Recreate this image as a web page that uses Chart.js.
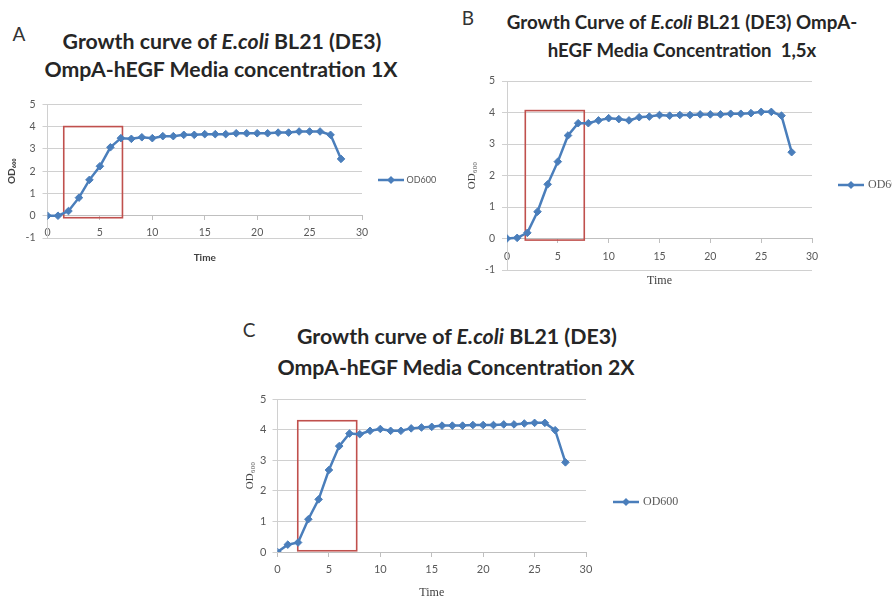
<!DOCTYPE html>
<html>
<head>
<meta charset="utf-8">
<script src="https://cdn.jsdelivr.net/npm/chart.js@4.4.0/dist/chart.umd.min.js"></script>
<style>
    html, body { margin: 0; padding: 0; background: #fff; }
    body { position: relative; width: 892px; height: 603px; overflow: hidden; font-family: Lato, 'Noto Sans', sans-serif; }
    canvas { position: absolute; }
    .letra { position: absolute; font-size: 19px; color: #333; line-height: 1; transform: translate(-50%, -50%); }
    .titulo { position: absolute; white-space: nowrap; font-weight: bold; color: #262626; line-height: 1; transform: translate(-50%, -50%); }
</style>
</head>
<body>

<div class="letra" style="left:19px; top:33px;">A</div>
<div class="titulo" data-w="319" style="left:222px; top:42px;">Growth curve of <i>E.coli</i> BL21 (DE3)</div>
<div class="titulo" data-w="353" style="left:221px; top:70px;">OmpA-hEGF Media concentration 1X</div>

<div class="letra" style="left:468px; top:17px;">B</div>
<div class="titulo" data-w="351" style="left:682px; top:22px;">Growth Curve of <i>E.coli</i> BL21 (DE3) OmpA-</div>
<div class="titulo" data-w="269" style="left:682px; top:50px;">hEGF Media Concentration &nbsp;1,5x</div>

<div class="letra" style="left:249px; top:329px;">C</div>
<div class="titulo" data-w="320" style="left:457px; top:337px;">Growth curve of <i>E.coli</i> BL21 (DE3)</div>
<div class="titulo" data-w="357" style="left:456px; top:368px;">OmpA-hEGF Media Concentration 2X</div>

<canvas id="chartA" width="470" height="185" style="left:0px; top:91px;"></canvas>
<canvas id="chartB" width="520" height="240" style="left:440px; top:65px;"></canvas>
<canvas id="chartC" width="520" height="220" style="left:200px; top:385px;"></canvas>

<script>
// Tiempo de muestreo (horas)
const sampleHours = [0, 1, 2, 3, 4, 5, 6, 7, 8, 9, 10, 11, 12, 13, 14, 15, 16, 17, 18, 19, 20, 21, 22, 23, 24, 25, 26, 27, 28];

// Lecturas OD600 por concentracion de medio
const od600A = [0, 0, 0.21, 0.81, 1.61, 2.22, 3.07, 3.48, 3.45, 3.52, 3.48, 3.57, 3.57, 3.63, 3.63, 3.66, 3.66, 3.66, 3.7, 3.7, 3.7, 3.7, 3.73, 3.73, 3.78, 3.78, 3.78, 3.63, 2.55];
const od600B = [0, 0.02, 0.18, 0.85, 1.72, 2.44, 3.27, 3.66, 3.66, 3.75, 3.82, 3.79, 3.75, 3.85, 3.87, 3.92, 3.9, 3.92, 3.92, 3.94, 3.94, 3.94, 3.96, 3.96, 3.98, 4.02, 4.02, 3.9, 2.74];
const od600C = [0, 0.24, 0.31, 1.07, 1.72, 2.68, 3.46, 3.87, 3.85, 3.96, 4.02, 3.96, 3.96, 4.04, 4.07, 4.09, 4.13, 4.13, 4.13, 4.15, 4.15, 4.15, 4.17, 4.17, 4.2, 4.22, 4.22, 3.98, 2.93];

// Fase exponencial marcada: [t inicio, t fin, OD abajo, OD arriba]
const phaseBoxA = [1.55, 7.15, -0.09, 4.0];
const phaseBoxB = [1.8, 7.6, -0.05, 4.06];
const phaseBoxC = [1.97, 7.7, 0.04, 4.29];

// Rangos de ejes: [min, max, paso]
const timeAxis = [0, 30, 5];
const odAxisAB = [-1, 5, 1];
const odAxisC = [0, 5, 1];

const LINE_BLUE = '#4a7ebb';
const GRID_GRAY = '#d0d0d0';
const TICK_GRAY = '#595959';

// Ajustar titulos al ancho del original
document.querySelectorAll('.titulo').forEach(el => {
    el.style.fontSize = '20px';
    const w = el.getBoundingClientRect().width;
    el.style.fontSize = (20 * el.dataset.w / w).toFixed(2) + 'px';
});

// Marcador de leyenda: linea con rombo
function legendMarker() {
    const c = document.createElement('canvas');
    c.width = 26; c.height = 10;
    const g = c.getContext('2d');
    g.strokeStyle = LINE_BLUE;
    g.lineWidth = 2.5;
    g.beginPath(); g.moveTo(0, 5); g.lineTo(26, 5); g.stroke();
    g.fillStyle = LINE_BLUE;
    g.beginPath(); g.moveTo(13, 1); g.lineTo(17, 5); g.lineTo(13, 9); g.lineTo(9, 5); g.closePath(); g.fill();
    return c;
}

// Recuadro rojo sobre la fase exponencial
const phaseBoxPlugin = {
    id: 'phaseBox',
    beforeDatasetsDraw(chart, args, opts) {
        if (!opts.range) return;
        const { ctx, scales: { x, y } } = chart;
        const [t0, t1, od0, od1] = opts.range;
        const left = x.getPixelForValue(t0);
        const right = x.getPixelForValue(t1);
        const top = y.getPixelForValue(od1);
        const bottom = y.getPixelForValue(od0);
        ctx.save();
        ctx.strokeStyle = '#c0504d';
        ctx.lineWidth = 1.6;
        ctx.strokeRect(left, top, right - left, bottom - top);
        ctx.restore();
    }
};

function drawPanel(id, values, box, yRange, cfg) {
    const chart = new Chart(document.getElementById(id), {
        type: 'line',
        data: {
            datasets: [{
                label: 'OD600',
                data: sampleHours.map((t, i) => ({ x: t, y: values[i] })),
                borderColor: LINE_BLUE,
                backgroundColor: LINE_BLUE,
                borderWidth: 2.5,
                pointStyle: 'rectRot',
                pointRadius: 3.8,
                pointBorderWidth: 1,
                tension: 0
            }]
        },
        options: {
            responsive: false,
            animation: false,
            devicePixelRatio: 1,
            layout: { padding: { top: cfg.padTop, left: 0, right: 0, bottom: cfg.padBottom } },
            plugins: {
                tooltip: { enabled: false },
                legend: {
                    position: 'right',
                    // titulo vacio: baja la entrada de la leyenda como en el original
                    title: { display: true, text: '', font: { size: 1 }, padding: { top: cfg.legendDrop - 1.2, bottom: 0 } },
                    labels: {
                        usePointStyle: true,
                        pointStyle: legendMarker(),
                        pointStyleWidth: 22,
                        padding: cfg.legendGap,
                        color: TICK_GRAY,
                        font: cfg.legendFont
                    }
                },
                phaseBox: { range: box }
            },
            scales: {
                x: {
                    type: 'linear',
                    position: { y: 0 },
                    min: timeAxis[0],
                    max: timeAxis[1],
                    ticks: { stepSize: timeAxis[2], color: TICK_GRAY, font: cfg.tickFont, padding: cfg.xTickPad, maxRotation: 0 },
                    grid: { drawOnChartArea: false, color: '#bfbfbf', tickLength: 4 },
                    border: { color: '#bfbfbf' },
                    title: { display: true, text: 'Time', color: '#404040', font: cfg.xTitleFont, padding: { top: 0, bottom: cfg.xTitlePad } },
                    afterFit: s => { s.height = cfg.xHeight; }
                },
                y: {
                    min: yRange[0],
                    max: yRange[1],
                    ticks: { stepSize: yRange[2], color: TICK_GRAY, font: cfg.tickFont, padding: cfg.yTickPad },
                    grid: { color: GRID_GRAY, tickLength: 5 },
                    border: { color: GRID_GRAY },
                    title: { display: true, text: 'OD₆₀₀', color: '#404040', font: cfg.yTitleFont, padding: { top: cfg.yTitlePad, bottom: 0 } },
                    afterFit: s => { s.width = cfg.yWidth; }
                }
            }
        },
        plugins: [phaseBoxPlugin]
    });
    // Colocar el borde derecho del area de trazado
    const diff = chart.chartArea.right - cfg.plotRight;
    chart.options.layout.padding.right += diff;
    chart.update();
    return chart;
}

const sansFont = 'Lato, "DejaVu Sans", sans-serif';
const serifFont = '"Liberation Serif", "DejaVu Serif", serif';

drawPanel('chartA', od600A, phaseBoxA, odAxisAB, {
    padTop: 13, padBottom: 38, xHeight: 18, yWidth: 47.5, plotRight: 362,
    legendGap: 18, legendDrop: 18, legendFont: { family: sansFont, size: 9 },
    tickFont: { family: sansFont, size: 10.5 }, xTickPad: 7, yTickPad: 7,
    xTitleFont: { family: sansFont, size: 10, weight: 'bold' }, xTitlePad: -30,
    yTitleFont: { family: sansFont, size: 10, weight: 'bold' }, yTitlePad: 6
});

drawPanel('chartB', od600B, phaseBoxB, odAxisAB, {
    padTop: 16, padBottom: 35, xHeight: 19, yWidth: 67, plotRight: 372,
    legendGap: 28, legendDrop: 19, legendFont: { family: serifFont, size: 12 },
    tickFont: { family: sansFont, size: 10.5 }, xTickPad: 8, yTickPad: 7,
    xTitleFont: { family: serifFont, size: 12 }, xTitlePad: -31,
    yTitleFont: { family: serifFont, size: 11 }, yTitlePad: 26
});

drawPanel('chartC', od600C, phaseBoxC, odAxisC, {
    padTop: 14, padBottom: 53, xHeight: 53, yWidth: 77.5, plotRight: 386,
    legendGap: 29, legendDrop: 53, legendFont: { family: serifFont, size: 12 },
    tickFont: { family: sansFont, size: 11 }, xTickPad: 7, yTickPad: 6,
    xTitleFont: { family: serifFont, size: 12 }, xTitlePad: 5,
    yTitleFont: { family: serifFont, size: 11 }, yTitlePad: 44
});
</script>
</body>
</html>
